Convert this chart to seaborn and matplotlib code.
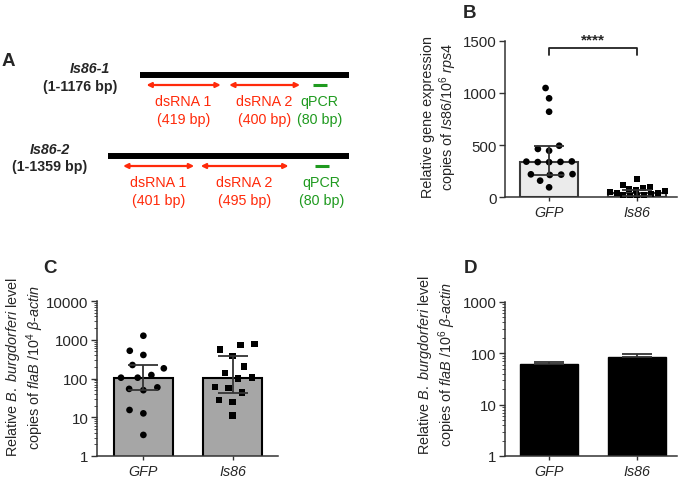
import numpy as np
import pandas as pd
import matplotlib
matplotlib.use("Agg")
import matplotlib.pyplot as plt
import seaborn as sns

sns.set_style("ticks")
plt.rcParams["font.family"] = ["Liberation Sans", "DejaVu Sans"]
plt.rcParams["mathtext.fontset"] = "custom"
plt.rcParams["mathtext.rm"] = "Liberation Sans"
plt.rcParams["mathtext.it"] = "Liberation Sans:italic"
plt.rcParams["mathtext.bf"] = "Liberation Sans:bold"

W, H = 685, 485
RED = "#ff2a0a"
GREEN = "#1f9a1f"
SPINE = "#333333"

# --- data ---
groups = ["GFP", "Is86"]

# panel A: transcript maps, bp
genes = ["Is86-1", "Is86-2"]
gene_range = ["(1-1176 bp)", "(1-1359 bp)"]
gene_len = [1176, 1359]
dsrna_start = [[34, 500], [85, 523]]
dsrna_len = [[419, 400], [401, 495]]
qpcr_start = [971, 1165]
qpcr_len = [80, 80]

# panel B: Is86 expression (copies / 10^6 rps4)
b_gfp = [1048, 949, 820, 493, 462, 445, 336, 340, 338, 342, 335, 215, 218, 212, 220, 157, 93]
b_is86 = [170, 115, 100, 90, 78, 68, 58, 50, 42, 35, 28, 22, 16, 10, 5]
b_bar = [340, 40]
b_err_lo = [215, 10]
b_err_hi = [493, 72]

# panel C: B. burgdorferi flaB / 10^4 beta-actin
c_gfp = [1270, 520, 405, 223, 183, 123, 105, 105, 59, 54, 50, 15.4, 12.6, 3.5]
c_is86 = [776, 745, 555, 386, 206, 138, 101, 105, 61, 56, 44, 28, 24.5, 11]
c_bar = [102, 102]
c_err_lo = [50, 42]
c_err_hi = [225, 370]

# panel D: flaB / 10^6 beta-actin
d_bar = [62, 85]
d_err_hi = [67, 99]


def px_axes(left, top, right, bottom):
    return fig.add_axes([left / W, 1 - bottom / H, (right - left) / W, (bottom - top) / H])


def px_text(x, y, s, **kw):
    fig.text(x / W, 1 - y / H, s, **kw)


def style_axes(ax):
    sns.despine(ax=ax)
    for sp in ["left", "bottom"]:
        ax.spines[sp].set_color(SPINE)
        ax.spines[sp].set_linewidth(1.1)
    ax.tick_params(axis="y", which="major", length=4, width=1, color=SPINE, labelsize=10.8, pad=2)
    ax.tick_params(axis="y", which="minor", length=2, width=0.6, color=SPINE)
    ax.tick_params(axis="x", length=3, width=1, color=SPINE, labelsize=10.3, pad=3)
    ax.set_xticks([0, 1])
    ax.set_xticklabels(groups, fontstyle="italic")
    ax.set_xlabel("")


fig = plt.figure(figsize=(W / 100, H / 100), dpi=100)

# ---------------- panel A ----------------
axA = px_axes(108, 40, 349, 230)
axA.set_xlim(0, max(gene_len))
axA.set_ylim(230, 40)
axA.axis("off")
row_y = [76, 157]
label_x = [[90, 80], [50, 50]]
label_y = [[69, 87], [150, 167]]
for i in range(len(genes)):
    off = max(gene_len) - gene_len[i]
    y = row_y[i]
    axA.plot([off, off + gene_len[i]], [y, y], color="black", lw=4.3, solid_capstyle="butt")
    for s, n, name in zip(dsrna_start[i], dsrna_len[i], ["dsRNA 1", "dsRNA 2"]):
        axA.annotate("", xy=(off + s + n, y + 10), xytext=(off + s, y + 10),
                     arrowprops=dict(arrowstyle="<|-|>", color=RED, lw=1.6,
                                     mutation_scale=7, shrinkA=0, shrinkB=0))
        axA.text(off + s + n / 2, y + 35, f"{name}\n({n} bp)", color=RED, fontsize=10.3,
                 ha="center", va="center", linespacing=1.3)
    qs = off + qpcr_start[i]
    axA.plot([qs, qs + qpcr_len[i]], [y + 10, y + 10], color=GREEN, lw=2.2, solid_capstyle="butt")
    axA.text(qs + qpcr_len[i] / 2, y + 35, f"qPCR\n({qpcr_len[i]} bp)", color=GREEN, fontsize=10.3,
             ha="center", va="center", linespacing=1.3)
    px_text(label_x[i][0], label_y[i][0], genes[i], fontsize=10.3, fontweight="bold",
            fontstyle="italic", ha="center", va="center")
    px_text(label_x[i][1], label_y[i][1], gene_range[i], fontsize=10.3, fontweight="bold",
            ha="center", va="center")

# ---------------- panel B ----------------
axB = px_axes(505, 42, 677, 198)
sns.barplot(x=groups, y=b_bar, ax=axB, width=0.66, color="#ebebeb",
            edgecolor="#3a3a3a", linewidth=1.5, saturation=1)
dfB = pd.DataFrame({"group": ["GFP"] * len(b_gfp) + ["Is86"] * len(b_is86),
                    "value": b_gfp + b_is86})
sns.swarmplot(data=dfB[dfB.group == "GFP"], x="group", y="value", order=groups, ax=axB,
              color="black", size=4.8, marker="o", linewidth=3, edgecolor="none", zorder=3)
sns.swarmplot(data=dfB[dfB.group == "Is86"], x="group", y="value", order=groups, ax=axB,
              color="black", size=4.8, marker="s", linewidth=0, zorder=3, warn_thresh=1)
axB.errorbar([0, 1], b_bar,
             yerr=[np.array(b_bar) - np.array(b_err_lo), np.array(b_err_hi) - np.array(b_bar)],
             fmt="none", ecolor="#333333", elinewidth=1.3, capsize=11, capthick=1.3, zorder=4)
axB.set_xlim(-0.5, 1.45)
axB.set_ylim(0, 1500)
axB.set_yticks([0, 500, 1000, 1500])
style_axes(axB)
axB.plot([0, 0, 1, 1], [1370, 1432, 1432, 1370], color="#222222", lw=1.3, clip_on=False)
axB.text(0.5, 1445, "****", ha="center", va="bottom", fontsize=11, fontweight="bold", clip_on=False)
axB.set_ylabel("Relative gene expression\ncopies of $\\it{Is86}$/10$^6$ $\\it{rps4}$",
               fontsize=10.4, linespacing=1.15)
axB.yaxis.set_label_coords(-0.267, 0.52)

# ---------------- panel C ----------------
axC = px_axes(97, 302, 278, 457)
axC.set_yscale("log")
sns.barplot(x=groups, y=c_bar, ax=axC, width=0.66, color="#a6a6a6",
            edgecolor="black", linewidth=1.5, saturation=1)
dfC = pd.DataFrame({"group": ["GFP"] * len(c_gfp) + ["Is86"] * len(c_is86),
                    "value": c_gfp + c_is86})
sns.swarmplot(data=dfC[dfC.group == "GFP"], x="group", y="value", order=groups, ax=axC,
              color="black", size=4.8, marker="o", linewidth=5, edgecolor="none", zorder=3)
sns.swarmplot(data=dfC[dfC.group == "Is86"], x="group", y="value", order=groups, ax=axC,
              color="black", size=4.6, marker="s", linewidth=5, edgecolor="none", zorder=3)
axC.errorbar([0, 1], c_bar,
             yerr=[np.array(c_bar) - np.array(c_err_lo), np.array(c_err_hi) - np.array(c_bar)],
             fmt="none", ecolor="#333333", elinewidth=1.3, capsize=11, capthick=1.3, zorder=4)
axC.set_xlim(-0.52, 1.51)
axC.set_ylim(1, 10000)
axC.set_yticks([1, 10, 100, 1000, 10000])
axC.set_yticklabels(["1", "10", "100", "1000", "10000"])
axC.yaxis.set_minor_formatter(matplotlib.ticker.NullFormatter())
style_axes(axC)
axC.set_ylabel("Relative $\\it{B.\\ burgdorferi}$ level\ncopies of $\\it{flaB}$ /10$^4$ $\\it{\\beta}$-$\\it{actin}$",
               fontsize=10.4, linespacing=1.15)
axC.yaxis.set_label_coords(-0.28, 0.58)

# ---------------- panel D ----------------
axD = px_axes(505, 303, 677, 457)
axD.set_yscale("log")
sns.barplot(x=groups, y=d_bar, ax=axD, width=0.66, color="black",
            edgecolor="black", linewidth=1, saturation=1)
axD.errorbar([0, 1], d_bar, yerr=[[0, 0], np.array(d_err_hi) - np.array(d_bar)],
             fmt="none", ecolor="#333333", elinewidth=1.3, capsize=11, capthick=1.3, zorder=4)
axD.set_xlim(-0.5, 1.45)
axD.set_ylim(1, 1000)
axD.set_yticks([1, 10, 100, 1000])
axD.set_yticklabels(["1", "10", "100", "1000"])
axD.yaxis.set_minor_formatter(matplotlib.ticker.NullFormatter())
style_axes(axD)
axD.set_ylabel("Relative $\\it{B.\\ burgdorferi}$ level\ncopies of $\\it{flaB}$ /10$^6$ $\\it{\\beta}$-$\\it{actin}$",
               fontsize=10.4, linespacing=1.15)
axD.yaxis.set_label_coords(-0.273, 0.6)

# panel letters
for letter, x, y in [("A", 8.5, 61.5), ("B", 469.5, 14), ("C", 50, 268.5), ("D", 470.5, 268.5)]:
    px_text(x, y, letter, fontsize=13.5, fontweight="bold", ha="center", va="center")

fig.savefig("out.png", dpi=100)
